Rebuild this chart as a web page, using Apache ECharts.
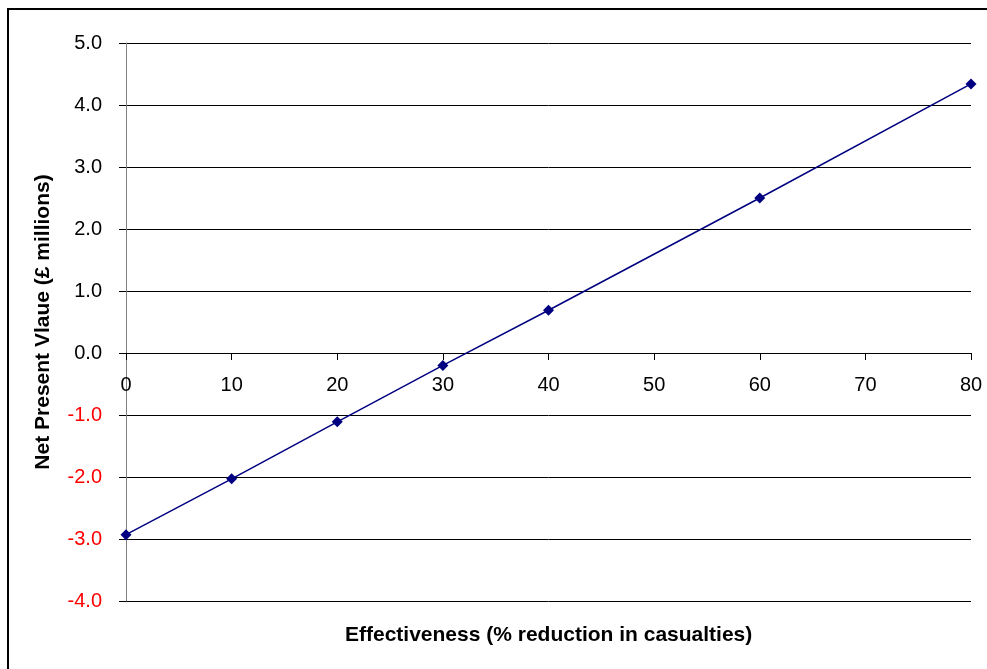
<!DOCTYPE html>
<html>
<head>
<meta charset="utf-8">
<script src="https://cdn.jsdelivr.net/npm/echarts@6/dist/echarts.min.js"></script>
<style>
  html, body { margin: 0; padding: 0; background: #fff; }
  #chart { width: 987px; height: 669px; }
</style>
</head>
<body>
<div id="chart"></div>
<script>
// data
const effectiveness = [0, 10, 20, 30, 40, 60, 80];
const npv = [-2.93, -2.03, -1.11, -0.2, 0.69, 2.5, 4.34];

const xName = 'Effectiveness (% reduction in casualties)';
const yName = 'Net Present Vlaue (£ millions)';

const myChart = echarts.init(document.getElementById('chart'));

const option = {
    animation: false,
    textStyle: { fontFamily: 'Liberation Sans, Arial, sans-serif' },
    grid: { left: 126, right: 16, top: 43, bottom: 68 },
    graphic: [
        {
            type: 'rect',
            shape: { x: 8, y: 9, width: 1100, height: 800 },
            style: { fill: 'none', stroke: '#000', lineWidth: 2 }
        },
        {
            type: 'text',
            left: 345, top: 625,
            style: { text: xName, fontSize: 21, fontWeight: 'bold', fill: '#000', fontFamily: 'Liberation Sans, Arial, sans-serif' }
        }
    ],
    xAxis: {
        type: 'value',
        min: 0, max: 80, interval: 10,
        // axis sits on y = 0 (grid bottom is -4, 4 of 9 units up)
        offset: -248,
        axisLine: { onZero: false, lineStyle: { color: '#000', width: 1 } },
        axisTick: { show: true, inside: false, length: 7, lineStyle: { color: '#000' } },
        axisLabel: { fontSize: 20, color: '#000', margin: 22 },
        splitLine: { show: false }
    },
    yAxis: {
        type: 'value',
        min: -4, max: 5, interval: 1,
        name: yName,
        nameLocation: 'middle',
        nameGap: 72,
        nameRotate: 90,
        nameTextStyle: { fontSize: 21, fontWeight: 'bold', color: '#000' },
        axisLine: { show: true, lineStyle: { color: '#808080', width: 1 } },
        axisTick: { show: true, inside: false, length: 7, lineStyle: { color: '#000' } },
        axisLabel: {
            fontSize: 20,
            margin: 24,
            formatter: (v) => v.toFixed(1),
            color: (v) => (Number(v) < 0 ? '#ff0000' : '#000')
        },
        splitLine: { show: true, lineStyle: { color: '#000', width: 1 } }
    },
    series: [{
        type: 'line',
        data: effectiveness.map((x, i) => [x, npv[i]]),
        symbol: 'diamond',
        symbolSize: 11,
        lineStyle: { color: '#000080', width: 1.5 },
        itemStyle: { color: '#000080' }
    }]
};

myChart.setOption(option);
</script>
</body>
</html>
